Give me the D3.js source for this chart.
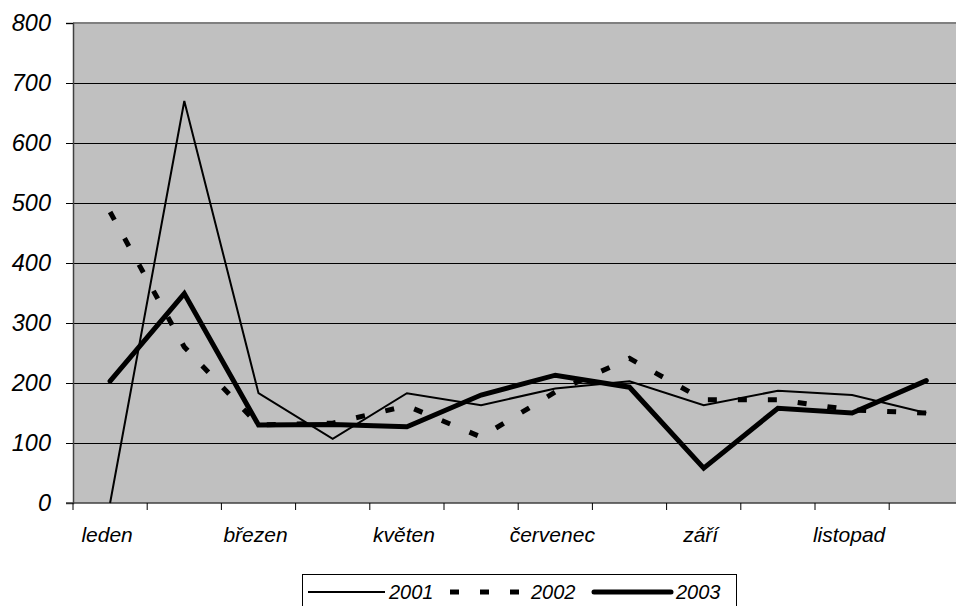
<!DOCTYPE html>
<html>
<head>
<meta charset="utf-8">
<script src="https://cdn.jsdelivr.net/npm/d3@7"></script>
<style>
  body { margin: 0; background: #fff; }
  svg text { font-family: "Liberation Sans", Arial, sans-serif; font-style: italic; fill: #000; }
</style>
</head>
<body>
<svg id="chart"></svg>
<script>
// months (all categories) and which ones get a label
const months = ["leden", "únor", "březen", "duben", "květen", "červen",
    "červenec", "srpen", "září", "říjen", "listopad", "prosinec"];
const shownLabels = ["leden", "březen", "květen", "červenec", "září", "listopad"];
const yTicks = [0, 100, 200, 300, 400, 500, 600, 700, 800];

const seriesNames = ["2001", "2002", "2003"];
const values2001 = [0, 670, 183, 107, 183, 163, 191, 203, 163, 187, 180, 150];
const values2002 = [485, 260, 130, 133, 162, 110, 185, 241, 172, 172, 155, 150];
const values2003 = [203, 349, 130, 131, 127, 180, 213, 193, 58, 158, 150, 204];

const width = 956;
const height = 606;
const plotLeft = 73;
const plotTop = 23;
const plotBottom = 503;
const bandW = 74.2;
const plotRight = plotLeft + bandW * months.length;

const svg = d3.select("#chart")
    .attr("width", width)
    .attr("height", height);

const x = d3.scaleBand()
    .domain(months)
    .range([plotLeft, plotRight])
    .padding(0);

const y = d3.scaleLinear()
    .domain([0, 800])
    .range([plotBottom, plotTop]);

// plot background
svg.append("rect")
    .attr("x", plotLeft)
    .attr("y", plotTop)
    .attr("width", plotRight - plotLeft)
    .attr("height", plotBottom - plotTop)
    .style("fill", "#c0c0c0");

// top border
svg.append("line")
    .attr("x1", plotLeft).attr("x2", plotRight)
    .attr("y1", plotTop).attr("y2", plotTop)
    .style("stroke", "#808080")
    .style("stroke-width", 2);

// gridlines
svg.selectAll("line.grid")
    .data(yTicks.filter(d => d > 0 && d < 800))
    .enter()
    .append("line")
    .attr("class", "grid")
    .attr("x1", plotLeft)
    .attr("x2", plotRight)
    .attr("y1", d => Math.round(y(d)) + 0.5)
    .attr("y2", d => Math.round(y(d)) + 0.5)
    .style("stroke", "#000")
    .style("stroke-width", 1);

// y axis
const yAxis = d3.axisLeft(y)
    .tickValues(yTicks)
    .tickSize(7)
    .tickPadding(15)
    .tickFormat(d3.format("d"));

const yg = svg.append("g")
    .attr("transform", `translate(${plotLeft}, 0)`)
    .call(yAxis);
yg.select(".domain").style("stroke", "#404040").style("stroke-width", 1.5);
yg.selectAll(".tick line").style("stroke", "#000");
yg.selectAll(".tick text")
    .style("font-size", "23.5px")
    .style("font-family", "'Liberation Sans', Arial, sans-serif")
    .style("font-style", "italic")
    .attr("fill", "#000");

// x axis line and ticks at band edges
svg.append("line")
    .attr("x1", plotLeft - 7).attr("x2", plotRight)
    .attr("y1", plotBottom).attr("y2", plotBottom)
    .style("stroke", "#404040")
    .style("stroke-width", 1.5);

svg.selectAll("line.xtick")
    .data(months)
    .enter()
    .append("line")
    .attr("class", "xtick")
    .attr("x1", d => x(d))
    .attr("x2", d => x(d))
    .attr("y1", plotBottom)
    .attr("y2", plotBottom + 7)
    .style("stroke", "#000");

svg.selectAll("text.xlabel")
    .data(shownLabels)
    .enter()
    .append("text")
    .attr("class", "xlabel")
    .attr("x", d => x(d) + x.bandwidth() / 2 - 3)
    .attr("y", 542)
    .attr("text-anchor", "middle")
    .style("font-size", "21px")
    .text(d => d);

// series lines
const line = d3.line()
    .x((d, i) => x(months[i]) + x.bandwidth() / 2)
    .y(d => y(d));

const seriesStyle = [
    { data: values2001, w: 2, dash: null, cap: "butt" },
    { data: values2002, w: 5, dash: "9,21", cap: "butt" },
    { data: values2003, w: 5, dash: null, cap: "round" }
];

seriesStyle.forEach(s => {
    svg.append("path")
        .datum(s.data)
        .attr("d", line)
        .style("fill", "none")
        .style("stroke", "#000")
        .style("stroke-width", s.w)
        .style("stroke-linejoin", "miter")
        .style("stroke-linecap", s.cap)
        .style("stroke-dasharray", s.dash);
});

// legend
const legend = svg.append("g").attr("class", "legend");
legend.append("rect")
    .attr("x", 302.5)
    .attr("y", 574.5)
    .attr("width", 434)
    .attr("height", 50)
    .style("fill", "#fff")
    .style("stroke", "#000")
    .style("stroke-width", 1);

const legendItems = [
    { x1: 308, x2: 385, tx: 389 },
    { x1: 450, x2: 521, tx: 531 },
    { x1: 594, x2: 671, tx: 676 }
];

legendItems.forEach((item, i) => {
    const s = seriesStyle[i];
    legend.append("line")
        .attr("x1", item.x1).attr("x2", item.x2)
        .attr("y1", 592).attr("y2", 592)
        .style("stroke", "#000")
        .style("stroke-width", s.w)
        .style("stroke-linecap", s.cap)
        .style("stroke-dasharray", s.dash);
    legend.append("text")
        .attr("x", item.tx)
        .attr("y", 598.5)
        .style("font-size", "20px")
        .text(seriesNames[i]);
});
</script>
</body>
</html>
